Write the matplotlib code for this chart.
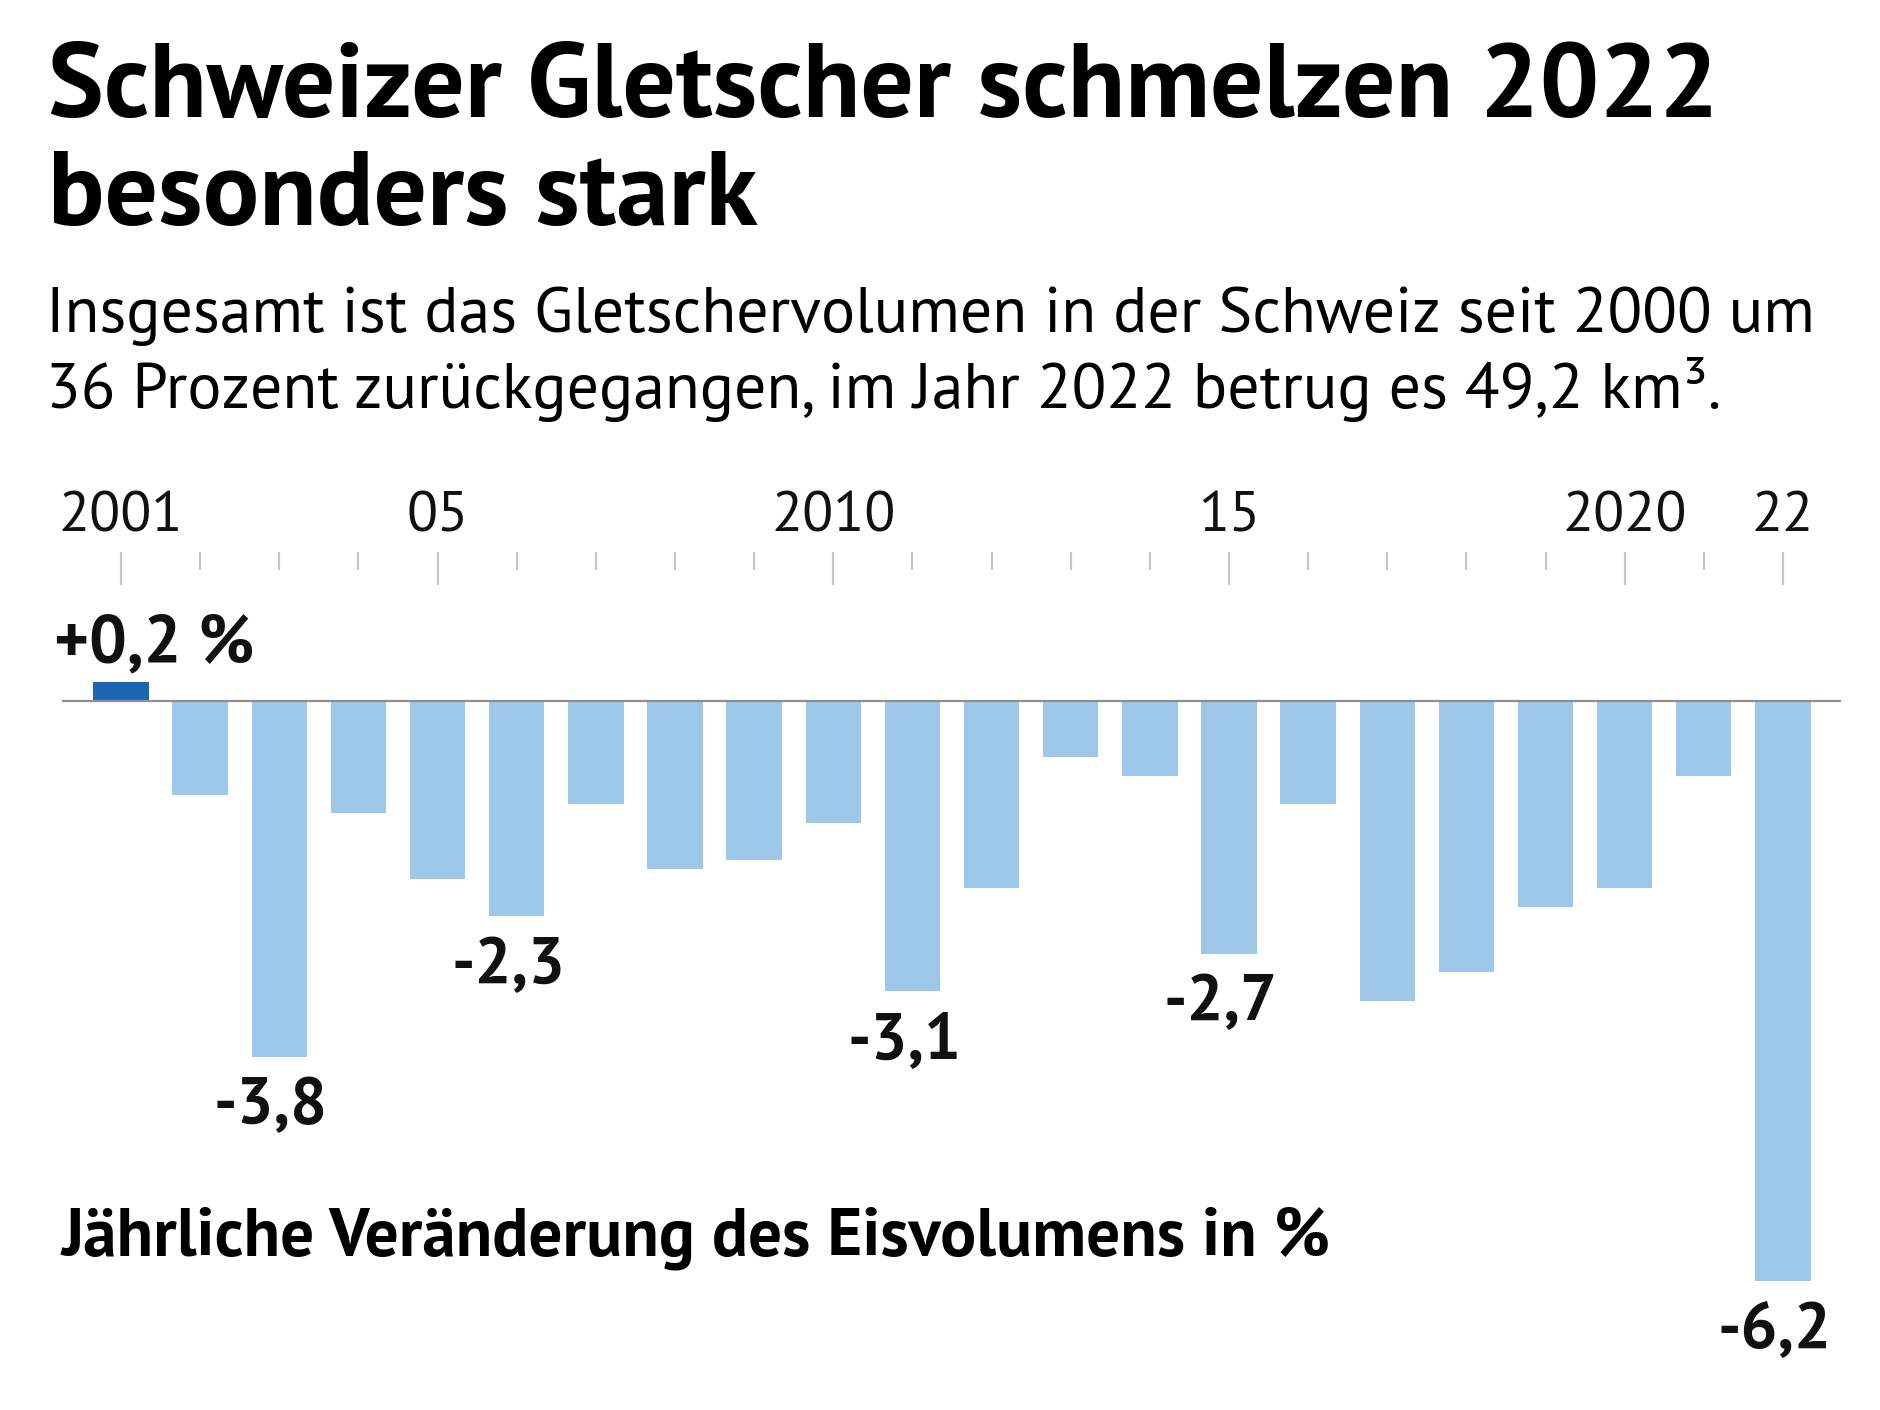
import matplotlib
matplotlib.use("Agg")
import matplotlib.pyplot as plt

# jährliche Veränderung des Eisvolumens in %
years = list(range(2001, 2023))
values = [0.2, -1.0, -3.8, -1.2, -1.9, -2.3, -1.1, -1.8, -1.7, -1.3, -3.1,
          -2.0, -0.6, -0.8, -2.7, -1.1, -3.2, -2.9, -2.2, -2.0, -0.8, -6.2]
labeled_years = [2003, 2006, 2011, 2015, 2022]
tick_labels = {2001: "2001", 2005: "05", 2010: "2010", 2015: "15", 2020: "2020", 2022: "22"}

title = "Schweizer Gletscher schmelzen 2022\nbesonders stark"
subtitle = ("Insgesamt ist das Gletschervolumen in der Schweiz seit 2000 um\n"
            "36 Prozent zurückgegangen, im Jahr 2022 betrug es 49,2 km³.")
footer = "Jährliche Veränderung des Eisvolumens in %"

W, H = 1880, 1410
plt.rcParams["font.family"] = ["PT Sans", "DejaVu Sans"]
fig = plt.figure(figsize=(W / 100, H / 100), dpi=100)
renderer = fig.canvas.get_renderer()


def fig_text(x_px, y_px, s, **kw):
    return fig.text(x_px / W, 1 - y_px / H, s, va="baseline", ha="left", **kw)


def fit_width(t, width_px):
    bb = t.get_window_extent(renderer=renderer)
    t.set_fontsize(t.get_fontsize() * width_px / bb.width)


# titel (zwei zeilen)
t1 = fig_text(48, 117, title.split("\n")[0], fontsize=66, fontweight="bold")
fit_width(t1, 1669)
fig_text(48, 225, title.split("\n")[1], fontsize=t1.get_fontsize(), fontweight="bold")

s1 = fig_text(46, 332, subtitle.split("\n")[0], fontsize=42)
fit_width(s1, 1770)
fig_text(46, 408, subtitle.split("\n")[1], fontsize=s1.get_fontsize())

f1 = fig_text(62, 1255, footer, fontsize=42, fontweight="bold")
fit_width(f1, 1268)

# achse: oben bei y=552 px, baseline bei 701 px, 93.6 px pro prozent, 79.14 px pro jahr
px_year = 79.14
x0 = 121.0
ax = fig.add_axes([0, 0, 1, (H - 552) / H])
ax.set_xlim(years[0] - x0 / px_year, years[0] + (W - x0) / px_year)
ax.set_ylim(-(H - 701) / 93.6, (701 - 552) / 93.6)

colors = ["#1c66b1" if v > 0 else "#9dc8ea" for v in values]
ax.bar(years, values, width=0.7, color=colors, zorder=2)
ax.hlines(0, years[0] - 0.75, years[-1] + 0.73, color="#8f8f8f", lw=1.6, zorder=3)

for spine in ax.spines.values():
    spine.set_visible(False)
ax.yaxis.set_visible(False)
ax.xaxis.tick_top()
ax.set_xticks(list(tick_labels.keys()))
ax.set_xticklabels(list(tick_labels.values()))
ax.set_xticks([y for y in years if y not in tick_labels], minor=True)
ax.tick_params(axis="x", which="major", direction="in", length=24, width=1.5,
               color="#c6c6c6", pad=7, labelsize=41, labelcolor="#111111")
ax.tick_params(axis="x", which="minor", direction="in", length=13, width=1.5,
               color="#c6c6c6")

# wertebeschriftungen
ax.annotate("+" + f"{values[0]:.1f}".replace(".", ",") + " %", xy=(years[0], values[0]),
            xytext=(-48, 14), textcoords="offset points", ha="left", va="baseline",
            fontsize=48, fontweight="bold", color="#111111")
for yr in labeled_years:
    v = values[years.index(yr)]
    ax.annotate(f"{v:.1f}".replace(".", ","), xy=(yr, v), xytext=(-6, -48),
                textcoords="offset points", ha="center", va="baseline",
                fontsize=47, fontweight="bold", color="#111111")

fig.savefig("out.png", dpi=100)
